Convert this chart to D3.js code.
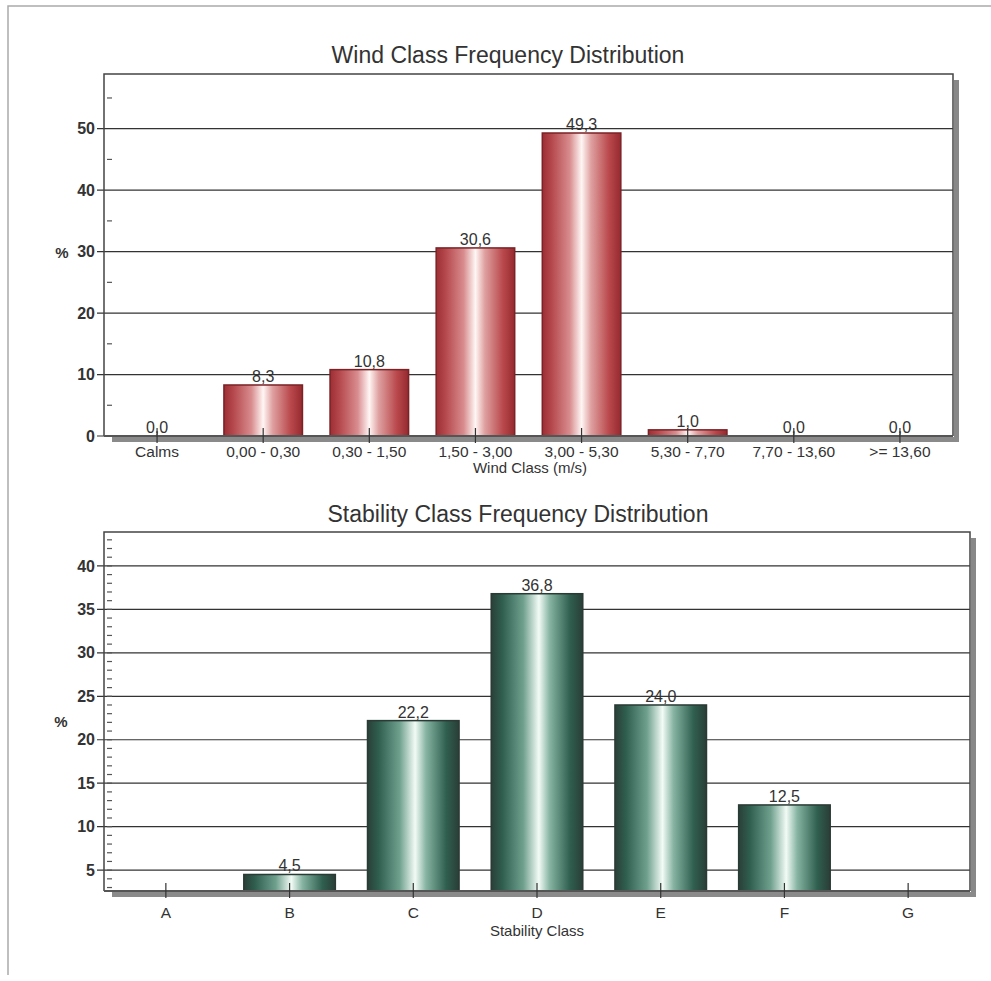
<!DOCTYPE html>
<html><head><meta charset="utf-8">
<script src="https://cdn.jsdelivr.net/npm/d3@7"></script>
<style>
body{margin:0;background:#fff;}
svg{display:block;font-family:"Liberation Sans",Arial,sans-serif;}
</style></head><body>
<svg id="c" width="991" height="981"></svg>
<script>
// ---- data ----
const windTitle = "Wind Class Frequency Distribution";
const windCategories = ["Calms","0,00 - 0,30","0,30 - 1,50","1,50 - 3,00","3,00 - 5,30","5,30 - 7,70","7,70 - 13,60",">= 13,60"];
const windValues = [0.0, 8.3, 10.8, 30.6, 49.3, 1.0, 0.0, 0.0];
const windYTicks = [0,10,20,30,40,50];
const windXLabel = "Wind Class (m/s)";

const stabTitle = "Stability Class Frequency Distribution";
const stabCategories = ["A","B","C","D","E","F","G"];
const stabValues = [0.0, 4.5, 22.2, 36.8, 24.0, 12.5, 0.0];
const stabYTicks = [5,10,15,20,25,30,35,40];
const stabXLabel = "Stability Class";

const svg = d3.select("#c");
const fmt = v => d3.format(".1f")(v).replace(".", ",");

// outer frame
svg.append("path").attr("d","M8,975 L8,6 L991,6").attr("fill","none").attr("stroke","#aaa").attr("stroke-width",1.5);

const defs = svg.append("defs");
function grad(id, stops){
  const g = defs.append("linearGradient").attr("id",id).attr("x1","0%").attr("x2","100%").attr("y1","0%").attr("y2","0%");
  stops.forEach(s=>g.append("stop").attr("offset",s[0]).attr("stop-color",s[1]));
}
grad("gRed",[["0%","#9c2e34"],["12%","#b5484d"],["35%","#d88c8e"],["50%","#fff6f4"],["62%","#dfa0a0"],["85%","#b9484c"],["100%","#962a2f"]]);
grad("gGreen",[["0%","#2a4038"],["12%","#2f5e4e"],["35%","#6fa08e"],["52%","#f2fbf6"],["64%","#86b3a2"],["86%","#2f5f4f"],["100%","#2a3e37"]]);

function chart(o){
  const g = svg.append("g");
  const x = d3.scaleBand().domain(o.cats).range([o.left,o.right]).paddingInner(0.26).paddingOuter(0.13);
  const xc = d3.scalePoint().domain(o.cats).range([o.left,o.right]).padding(0.5);
  const y = d3.scaleLinear().domain(o.ydom).range([o.bottom,o.top]);

  // shadow
  g.append("rect").attr("x",o.right+1).attr("y",o.top+6).attr("width",5).attr("height",o.bottom-o.top-1).attr("fill","#888");
  g.append("rect").attr("x",o.left+8).attr("y",o.bottom+1).attr("width",o.right-o.left-2).attr("height",5).attr("fill","#8a8a8a");

  // grid
  g.selectAll(".grid").data(o.yticks).join("line")
    .attr("x1",o.left-7).attr("x2",o.right).attr("y1",d=>y(d)).attr("y2",d=>y(d))
    .attr("stroke","#333").attr("stroke-width",1.2);
  // minor ticks
  g.selectAll(".minor").data(o.minor).join("line")
    .attr("x1",o.left+3).attr("x2",o.left+8).attr("y1",d=>y(d)).attr("y2",d=>y(d))
    .attr("stroke","#555").attr("stroke-width",1.2);

  // bars
  g.selectAll(".bar").data(o.vals.map((v,i)=>({c:o.cats[i],v}))).join("rect")
    .filter(d=>d.v>o.ydom[0])
    .attr("x",d=>x(d.c)).attr("width",x.bandwidth())
    .attr("y",d=>y(d.v)).attr("height",d=>o.bottom-y(d.v))
    .attr("fill",`url(#${o.grad})`).attr("stroke",o.edge).attr("stroke-width",1.5);

  // frame
  g.append("path").attr("d",`M${o.left},${o.bottom} L${o.left},${o.top} L${o.right},${o.top} L${o.right},${o.bottom}`)
    .attr("fill","none").attr("stroke","#444").attr("stroke-width",1.5);
  g.append("line").attr("x1",o.left).attr("x2",o.right).attr("y1",o.bottom).attr("y2",o.bottom).attr("stroke","#555").attr("stroke-width",2);

  // x ticks
  g.selectAll(".xt").data(o.cats).join("line")
    .attr("x1",d=>xc(d)).attr("x2",d=>xc(d)).attr("y1",o.bottom-8).attr("y2",o.bottom+7)
    .attr("stroke","#333").attr("stroke-width",1.2);

  // y labels
  g.selectAll(".yl").data(o.yticks).join("text")
    .attr("x",o.left-9).attr("y",d=>y(d)).attr("dy","0.35em").attr("text-anchor","end")
    .attr("font-size",16).attr("font-weight","bold").attr("fill","#333").text(d=>d);
  g.append("text").attr("x",o.pctX).attr("y",o.pctY).attr("dy","0.35em").attr("text-anchor","middle")
    .attr("font-size",15).attr("font-weight","bold").attr("fill","#333").text("%");

  // x labels
  g.selectAll(".xl").data(o.cats).join("text")
    .attr("x",d=>xc(d)).attr("y",o.bottom+o.catDy).attr("text-anchor","middle")
    .attr("font-size",15.5).attr("fill","#333").text(d=>d);
  g.append("text").attr("x",o.xlabX).attr("y",o.bottom+o.labDy).attr("text-anchor","middle")
    .attr("font-size",15).attr("fill","#333").text(o.xlabel);

  // value labels
  g.selectAll(".vl").data(o.vals.map((v,i)=>({c:o.cats[i],v}))).join("text")
    .filter(d=>d.v>o.ydom[0] || o.showZero)
    .attr("x",d=>xc(d.c)).attr("y",d=>Math.min(y(d.v),o.bottom)-3).attr("text-anchor","middle")
    .attr("font-size",16).attr("fill","#333").text(d=>fmt(d.v));

  // title
  g.append("text").attr("x",o.titleX).attr("y",o.titleY).attr("text-anchor","middle")
    .attr("font-size",23).attr("fill","#333").text(o.title);
}

chart({cats:windCategories, vals:windValues, yticks:windYTicks, minor:[5,15,25,35,45,55],
  ydom:[0,58.9], left:104, right:953, top:74, bottom:436, grad:"gRed", edge:"#7a2226",
  pctX:62, pctY:253, xlabel:windXLabel, xlabX:530, catDy:21, labDy:37,
  title:windTitle, titleX:508, titleY:63, showZero:true});

chart({cats:stabCategories, vals:stabValues, yticks:stabYTicks, minor:d3.range(3,44),
  ydom:[2.6,43.9], left:104, right:970, top:532, bottom:891, grad:"gGreen", edge:"#2a3a34",
  pctX:61, pctY:722, xlabel:stabXLabel, xlabX:537, catDy:27, labDy:45,
  title:stabTitle, titleX:518, titleY:522, showZero:false});
</script>
</body></html>
